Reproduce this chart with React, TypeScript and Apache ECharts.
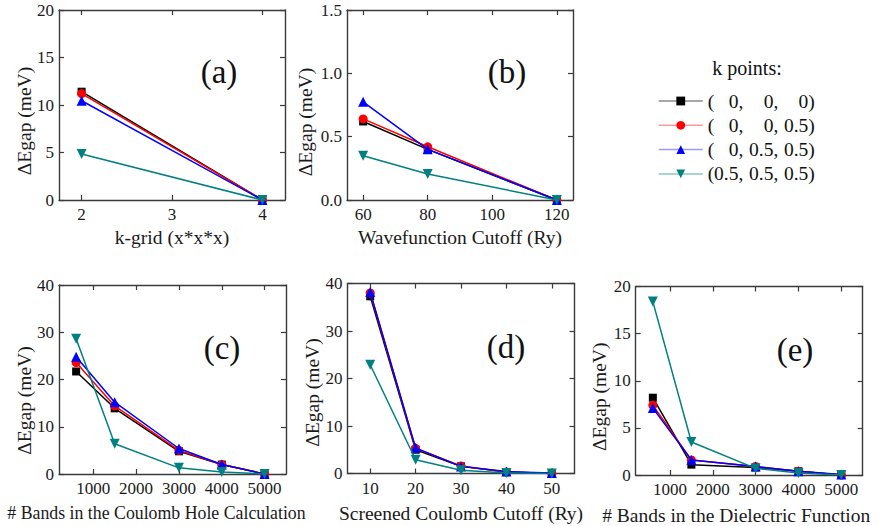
import React, { useEffect, useRef } from "react";
import * as echarts from "echarts";

// ---------- data ----------
const seriesNames = ["(0, 0, 0)", "(0, 0, 0.5)", "(0, 0.5, 0.5)", "(0.5, 0.5, 0.5)"];
const legendParts = [
  ["0,", "0,", "0)"],
  ["0,", "0,", "0.5)"],
  ["0,", "0.5,", "0.5)"],
  ["0.5,", "0.5,", "0.5)"],
];

const kGrid = [2, 4];
const kGridGap = [
  [11.4, 0],
  [11.2, 0],
  [10.45, 0],
  [4.85, 0],
];

const wfcCutoff = [60, 80, 120];
const wfcGap = [
  [0.62, 0.4, 0],
  [0.64, 0.42, 0],
  [0.775, 0.4, 0],
  [0.35, 0.205, 0],
];

const chBands = [600, 1500, 3000, 4000, 5000];
const chGap = [
  [21.7, 13.9, 4.8, 2.0, 0],
  [23.6, 14.4, 5.0, 2.0, 0],
  [24.8, 15.2, 5.4, 2.0, 0],
  [28.6, 6.4, 1.3, 0.4, 0],
];

const scCutoff = [10, 20, 30, 40, 50];
const scGap = [
  [37.3, 5.0, 1.5, 0.3, 0],
  [38.0, 5.3, 1.6, 0.3, 0],
  [38.2, 5.4, 1.5, 0.4, 0.1],
  [22.9, 2.9, 0.7, 0.1, 0],
];

const dfBands = [600, 1500, 3000, 4000, 5000];
const dfGap = [
  [8.2, 1.1, 0.8, 0.4, 0],
  [7.4, 1.6, 0.9, 0.4, 0],
  [7.1, 1.6, 0.9, 0.4, 0.05],
  [18.4, 3.5, 0.7, 0.2, 0],
];

const kGridTicks = [2, 3, 4];
const wfcTicks = [60, 80, 100, 120];
const bandTicks = [1000, 2000, 3000, 4000, 5000];
const scTicks = [10, 20, 30, 40, 50];

const panelLabels = ["(a)", "(b)", "(c)", "(d)", "(e)"];
const xNames = [
  "k-grid (x*x*x)",
  "Wavefunction Cutoff (Ry)",
  "# Bands in the Coulomb Hole Calculation",
  "Screened Coulomb Cutoff (Ry)",
  "# Bands in the Dielectric Function",
];
const yName = "ΔEgap (meV)";

// ---------- styling ----------
const FONT = "Liberation Serif";
const colors = ["#000000", "#ff0000", "#0000ff", "#008080"];
const legendLineColors = ["#8a8a8a", "#ff9a9a", "#9a9aff", "#8ac4c4"];
const symbols = ["rect", "circle", "triangle", "triangle"];
const symbolRotates = [0, 0, 0, 180];
const symbolSizes = [8, 9, 10, 10];
const AXIS_COLOR = "#3a3a3a";
const TEXT_COLOR = "#1a1a1a";

type Panel = {
  x: number[];
  y: number[][];
  ticks: number[];
  xMin: number;
  xMax: number;
  yMax: number;
  yInterval: number;
  yDecimals: number;
  grid: { left: number; top: number; width: number; height: number };
  label: [number, number];
  xNameGap: number;
  xNameShift: number;
  xNameSize: number;
  yNameGap: number;
  yNameShift: number;
};

const panels: Panel[] = [
  { x: kGrid, y: kGridGap, ticks: kGridTicks, xMin: 1.75, xMax: 4.25, yMax: 20, yInterval: 5, yDecimals: 0,
    grid: { left: 59, top: 10, width: 226, height: 190 }, label: [219, 72],
    xNameGap: 27, xNameShift: 0, xNameSize: 19.5, yNameGap: 25, yNameShift: 16 },
  { x: wfcCutoff, y: wfcGap, ticks: wfcTicks, xMin: 55, xMax: 125, yMax: 1.5, yInterval: 0.5, yDecimals: 1,
    grid: { left: 347, top: 10, width: 226, height: 190 }, label: [507, 72],
    xNameGap: 27, xNameShift: 0, xNameSize: 19.5, yNameGap: 32, yNameShift: 17 },
  { x: chBands, y: chGap, ticks: bandTicks, xMin: 200, xMax: 5500, yMax: 40, yInterval: 10, yDecimals: 0,
    grid: { left: 59, top: 285, width: 227, height: 189 }, label: [222, 348],
    xNameGap: 30, xNameShift: 16, xNameSize: 17.8, yNameGap: 25, yNameShift: 21 },
  { x: scCutoff, y: scGap, ticks: scTicks, xMin: 5, xMax: 55, yMax: 40, yInterval: 10, yDecimals: 0,
    grid: { left: 347.5, top: 283.5, width: 227, height: 190 }, label: [506, 347],
    xNameGap: 30, xNameShift: 0, xNameSize: 19.5, yNameGap: 25, yNameShift: 14 },
  { x: dfBands, y: dfGap, ticks: bandTicks, xMin: 200, xMax: 5500, yMax: 20, yInterval: 5, yDecimals: 0,
    grid: { left: 635.7, top: 286.5, width: 227, height: 189.5 }, label: [795, 350],
    xNameGap: 30, xNameShift: 13, xNameSize: 19.5, yNameGap: 26, yNameShift: 16 },
];

function buildOption() {
  const grid: any[] = [];
  const xAxis: any[] = [];
  const yAxis: any[] = [];
  const series: any[] = [];
  const graphic: any[] = [];

  const axisLine = { show: true, onZero: false, lineStyle: { color: AXIS_COLOR, width: 1.4 } };
  const tickBase = { show: true, inside: true, length: 5, lineStyle: { color: AXIS_COLOR, width: 1.2 } };

  panels.forEach((p, i) => {
    grid.push({ ...p.grid, containLabel: false });
    xAxis.push({
      type: "value", gridIndex: i, position: "bottom", min: p.xMin, max: p.xMax,
      axisLine, axisTick: { ...tickBase, customValues: p.ticks },
      axisLabel: {
        customValues: p.ticks, margin: 6, fontFamily: FONT, fontSize: 17, color: TEXT_COLOR,
        formatter: (v: number) => String(v),
      },
      splitLine: { show: false },
      name: xNames[i], nameLocation: "middle", nameGap: p.xNameGap, nameMoveOverlap: false,
      nameTextStyle: { fontFamily: FONT, fontSize: p.xNameSize, color: TEXT_COLOR, padding: [0, p.xNameShift * 2, 0, 0] },
    });
    xAxis.push({
      type: "value", gridIndex: i, position: "top", min: p.xMin, max: p.xMax,
      axisLine, axisTick: { ...tickBase, customValues: p.ticks },
      axisLabel: { show: false }, splitLine: { show: false },
    });
    yAxis.push({
      type: "value", gridIndex: i, position: "left", min: 0, max: p.yMax, interval: p.yInterval,
      axisLine, axisTick: tickBase,
      axisLabel: {
        margin: 5, fontFamily: FONT, fontSize: 17, color: TEXT_COLOR,
        formatter: (v: number) => v.toFixed(p.yDecimals),
      },
      splitLine: { show: false },
      name: yName, nameLocation: "middle", nameGap: p.yNameGap, nameMoveOverlap: false,
      nameTextStyle: { fontFamily: FONT, fontSize: 19.5, color: TEXT_COLOR, padding: [0, p.yNameShift * 2, 0, 0] },
    });
    yAxis.push({
      type: "value", gridIndex: i, position: "right", min: 0, max: p.yMax, interval: p.yInterval,
      axisLine, axisTick: tickBase, axisLabel: { show: false }, splitLine: { show: false },
    });

    seriesNames.forEach((name, s) => {
      series.push({
        type: "line", name,
        xAxisIndex: i * 2, yAxisIndex: i * 2,
        data: p.x.map((xv, k) => [xv, p.y[s][k]]),
        symbol: symbols[s], symbolRotate: symbolRotates[s], symbolSize: symbolSizes[s],
        showAllSymbol: true,
        lineStyle: { color: colors[s], width: 1.5 },
        itemStyle: { color: colors[s] },
        z: 2 + s,
      });
    });

    graphic.push({
      type: "text", x: p.label[0], y: p.label[1],
      style: {
        text: panelLabels[i], fontFamily: FONT, fontSize: 33, fill: "#111",
        textAlign: "center", textVerticalAlign: "middle",
      },
    });
  });

  graphic.push({
    type: "text", x: 747, y: 68,
    style: {
      text: "k points:", fontFamily: FONT, fontSize: 20, fill: "#111",
      textAlign: "center", textVerticalAlign: "middle",
    },
  });

  const cell = { fontFamily: FONT, fontSize: 19.5, color: "#111" };
  const rich: any = {
    o: { ...cell, width: 6.5, align: "left" },
    a: { ...cell, width: 29, align: "right" },
    b: { ...cell, width: 35, align: "right" },
    c: { ...cell, width: 36.5, align: "right" },
  };

  return {
    animation: false,
    backgroundColor: "#ffffff",
    textStyle: { fontFamily: FONT },
    grid, xAxis, yAxis, series, graphic,
    legend: {
      orient: "vertical", left: 658, top: 91, padding: 0,
      itemWidth: 44, itemHeight: 11, itemGap: 4.3,
      data: seriesNames.map((name, s) => ({
        name,
        itemStyle: { color: colors[s] },
        lineStyle: { color: legendLineColors[s], width: 1.5 },
      })),
      formatter: (name: string) => {
        const idx = seriesNames.indexOf(name);
        const pts = legendParts[idx];
        return `{o|(}{a|${pts[0]}}{b|${pts[1]}}{c|${pts[2]}}`;
      },
      textStyle: { rich, fontFamily: FONT, fontSize: 19.5, lineHeight: 20 },
      itemTextGap: 6,
      selectedMode: false,
    },
  };
}

export default function App() {
  const ref = useRef<HTMLDivElement>(null);
  useEffect(() => {
    if (!ref.current) return;
    const chart = echarts.init(ref.current, undefined, { renderer: "svg" });
    chart.setOption(buildOption() as any);
    return () => chart.dispose();
  }, []);
  return (
    <div
      ref={ref}
      style={{ position: "fixed", left: 0, top: 0, width: 879, height: 526, background: "#fff" }}
    />
  );
}
